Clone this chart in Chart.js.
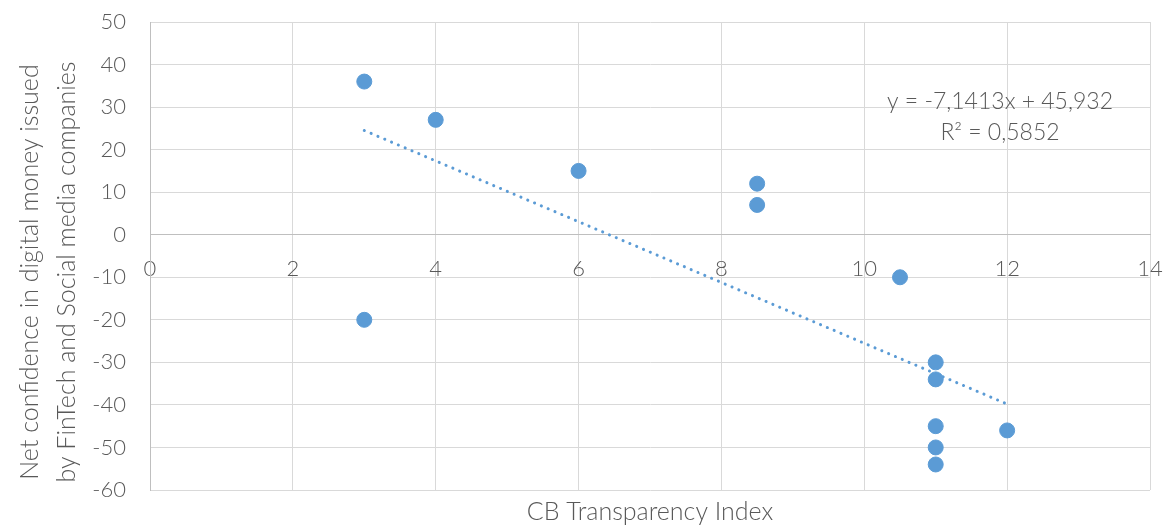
<!DOCTYPE html>
<html>
<head>
<meta charset="utf-8">
<script src="https://cdn.jsdelivr.net/npm/chart.js@4"></script>
<style>
  html, body { margin: 0; padding: 0; background: #fff; }
  #wrap { width: 1170px; height: 528px; }
</style>
</head>
<body>
<div id="wrap"><canvas id="scatterChart" width="1170" height="528"></canvas></div>
<script>
// data
const transparency = [3, 4, 6, 8.5, 8.5, 3, 10.5, 11, 11, 11, 11, 11, 12];
const confidence = [36, 27, 15, 12, 7, -20, -10, -30, -34, -45, -50, -54, -46];
// linear trendline ends (x = 3 and x = 12)
const trendX = [3, 12];
const trendY = [24.5, -39.8];
const xTicks = [0, 2, 4, 6, 8, 10, 12, 14];
const yTicks = [-60, -50, -40, -30, -20, -10, 0, 10, 20, 30, 40, 50];
const equationLines = ['y = -7,1413x + 45,932', 'R\u00b2 = 0,5852'];
const yTitleLines = ['Net confidence in digital money issued', 'by FinTech and Social media companies'];

const blue = '#5b9bd5';
const textGrey = '#595959';
const fontFamily = 'Lato, "Open Sans", sans-serif';

const ctx = document.getElementById('scatterChart').getContext('2d');

// axis titles and trend equation, drawn after the chart
const extraText = {
  id: 'extraText',
  afterDraw(chart) {
    const c = chart.ctx;
    const area = chart.chartArea;
    const xs = chart.scales.x, ys = chart.scales.y;
    c.save();
    c.fillStyle = textGrey;
    c.textAlign = 'center';
    c.textBaseline = 'middle';
    c.font = '300 25px ' + fontFamily;
    c.fillText('CB Transparency Index', (area.left + area.right) / 2, 512);

    // y title: two rotated lines, a bit below the plot centre like the original
    c.save();
    c.translate(30, 272);
    c.rotate(-Math.PI / 2);
    c.fillText(yTitleLines[0], 0, 0);
    c.fillText(yTitleLines[1], 0, 37);
    c.restore();

    c.font = '300 23px ' + fontFamily;
    const ex = xs.getPixelForValue(11.9);
    c.fillText(equationLines[0], ex, ys.getPixelForValue(31.4));
    c.fillText(equationLines[1], ex, ys.getPixelForValue(23.9));
    c.restore();
  }
};

new Chart(ctx, {
  type: 'scatter',
  data: {
    datasets: [{
      label: 'Net confidence',
      data: transparency.map((x, i) => ({ x: x, y: confidence[i] })),
      backgroundColor: blue,
      borderColor: blue,
      pointRadius: 7.5,
      pointHoverRadius: 7.5
    }, {
      label: 'Trend',
      data: trendX.map((x, i) => ({ x: x, y: trendY[i] })),
      showLine: true,
      borderColor: blue,
      borderWidth: 3,
      borderDash: [0.1, 7.3],
      borderCapStyle: 'round',
      pointRadius: 0
    }]
  },
  options: {
    responsive: false,
    animation: false,
    layout: {
      autoPadding: false,
      padding: { top: 22, right: 20, bottom: 38, left: 0 }
    },
    plugins: {
      legend: { display: false },
      tooltip: { enabled: false }
    },
    scales: {
      x: {
        type: 'linear',
        position: { y: 0 },
        min: 0,
        max: 14,
        afterBuildTicks: (scale) => { scale.ticks = xTicks.map(v => ({ value: v })); },
        afterFit: (scale) => { scale.paddingLeft = 0; scale.paddingRight = 0; },
        ticks: {
          color: textGrey,
          padding: 21,
          font: { family: fontFamily, size: 22, weight: '300' },
          maxRotation: 0
        },
        grid: { color: '#d9d9d9', lineWidth: 1, drawTicks: false },
        border: { color: '#bfbfbf', width: 1 }
      },
      y: {
        position: 'left',
        min: -60,
        max: 50,
        afterBuildTicks: (scale) => { scale.ticks = yTicks.map(v => ({ value: v })); },
        afterFit: (scale) => {
          scale.width = 150;
          scale.paddingTop = 0;
          scale.paddingBottom = 0;
        },
        ticks: {
          color: textGrey,
          padding: 24,
          font: { family: fontFamily, size: 22, weight: '300' }
        },
        grid: { color: '#d9d9d9', lineWidth: 1, drawTicks: false },
        border: { color: '#bfbfbf', width: 1 }
      }
    }
  },
  plugins: [extraText]
});
</script>
</body>
</html>
